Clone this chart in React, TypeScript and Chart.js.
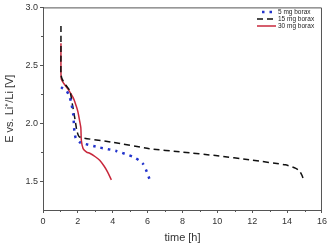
import React, { useEffect, useRef } from "react";
import { Chart, registerables } from "chart.js";

Chart.register(...registerables);

const seriesLabels = ["5 mg borax", "15 mg borax", "30 mg borax"];

const t5 = [1.03, 1.35, 1.54, 1.64, 1.73, 1.77, 1.8, 1.88, 2.1, 3.25, 4.2, 5.16, 5.5, 5.73, 5.9, 6.1];
const v5 = [2.31, 2.28, 2.22, 2.16, 2.08, 2.0, 1.93, 1.87, 1.835, 1.79, 1.76, 1.71, 1.68, 1.65, 1.6, 1.52];

const t15 = [1.03, 1.03, 1.03, 1.1, 1.3, 1.54, 1.7, 1.85, 1.95, 2.1, 4.0, 6.1, 8, 9.9, 12, 13.9, 14.5, 14.7, 14.85, 14.95];
const v15 = [2.84, 2.6, 2.42, 2.38, 2.33, 2.28, 2.15, 2.02, 1.93, 1.88, 1.835, 1.78, 1.75, 1.72, 1.68, 1.64, 1.61, 1.59, 1.55, 1.51];

const t30 = [1.03, 1.03, 1.05, 1.16, 1.45, 1.73, 1.9, 2.0, 2.1, 2.17, 2.2, 2.3, 2.5, 2.68, 3.0, 3.25, 3.5, 3.7, 3.92];
const v30 = [2.69, 2.45, 2.38, 2.35, 2.29, 2.22, 2.15, 2.1, 2.02, 1.96, 1.85, 1.78, 1.75, 1.74, 1.71, 1.68, 1.63, 1.58, 1.51];

const xTicks = [0, 2, 4, 6, 8, 10, 12, 14, 16];
const xMinorTicks = [1, 3, 5, 7, 9, 11, 13, 15];
const yTicks = [1.5, 2.0, 2.5, 3.0];
const yMinorTicks = [1.75, 2.25, 2.75];

const FONT = "'Liberation Sans', Arial, sans-serif";
const AXIS = "#555";

const pts = (ts: number[], vs: number[]) => ts.map((t, i) => ({ x: t, y: vs[i] }));

const framePlugin = {
  id: "frame",
  afterDraw(chart: any) {
    const { ctx, chartArea: a, scales } = chart;
    ctx.save();
    ctx.strokeStyle = AXIS;
    ctx.lineWidth = 1;
    ctx.beginPath();
    ctx.moveTo(a.left, a.top + 0.5);
    ctx.lineTo(a.right - 0.5, a.top + 0.5);
    ctx.lineTo(a.right - 0.5, a.bottom);
    ctx.stroke();
    ctx.beginPath();
    xMinorTicks.forEach((v) => {
      const x = Math.round(scales.x.getPixelForValue(v)) + 0.5;
      ctx.moveTo(x, a.bottom);
      ctx.lineTo(x, a.bottom + 2);
    });
    yMinorTicks.forEach((v) => {
      const y = Math.round(scales.y.getPixelForValue(v)) + 0.5;
      ctx.moveTo(a.left, y);
      ctx.lineTo(a.left - 2, y);
    });
    ctx.stroke();
    const ds = chart.data.datasets;
    const x0 = 257;
    const x1 = 276;
    const rows = [12, 19, 26];
    ctx.font = `6.5px ${FONT}`;
    ctx.textBaseline = "middle";
    ctx.textAlign = "left";
    ds.forEach((d: any, i: number) => {
      ctx.save();
      ctx.strokeStyle = d.borderColor;
      ctx.lineWidth = d.borderWidth;
      ctx.setLineDash(d.borderDash || []);
      ctx.beginPath();
      ctx.moveTo(i === 0 ? 262 : x0, rows[i]);
      ctx.lineTo(x1, rows[i]);
      ctx.stroke();
      ctx.restore();
      ctx.fillStyle = "#222";
      ctx.fillText(d.label, 278, rows[i]);
    });
    ctx.restore();
  },
};

export default function App() {
  const ref = useRef<HTMLCanvasElement>(null);
  useEffect(() => {
    document.body.style.margin = "0";
    const chart = new Chart(ref.current!, {
      type: "scatter",
      data: {
        datasets: [
          {
            label: seriesLabels[0],
            data: pts(t5, v5),
            showLine: true,
            borderColor: "#2233cc",
            borderWidth: 2.5,
            borderDash: [2.5, 5],
            pointRadius: 0,
            tension: 0.2,
          },
          {
            label: seriesLabels[1],
            data: pts(t15, v15),
            showLine: true,
            borderColor: "#111",
            borderWidth: 1.5,
            borderDash: [6, 4],
            pointRadius: 0,
            tension: 0.2,
          },
          {
            label: seriesLabels[2],
            data: pts(t30, v30),
            showLine: true,
            borderColor: "#c8283c",
            borderWidth: 1.5,
            pointRadius: 0,
            tension: 0.3,
          },
        ] as any,
      },
      options: {
        responsive: false,
        animation: false,
        layout: { padding: { top: 5, right: 7, left: 0, bottom: 0 } },
        plugins: { legend: { display: false }, tooltip: { enabled: false } },
        scales: {
          x: {
            type: "linear",
            min: 0,
            max: 16,
            afterBuildTicks: (s: any) => {
              s.ticks = xTicks.map((v) => ({ value: v }));
            },
            afterFit: (s: any) => {
              s.height = 36;
            },
            grid: { drawOnChartArea: false, tickLength: 3, color: AXIS },
            border: { color: AXIS, width: 1 },
            ticks: { color: "#333", font: { family: FONT, size: 9 }, padding: 3, maxRotation: 0 },
            title: { display: true, text: "time [h]", color: "#333", font: { family: FONT, size: 11 }, padding: { top: 1, bottom: 1 } },
          },
          y: {
            type: "linear",
            min: 1.25,
            max: 3.0,
            afterBuildTicks: (s: any) => {
              s.ticks = yTicks.map((v) => ({ value: v }));
            },
            afterFit: (s: any) => {
              s.width = 43;
            },
            grid: { drawOnChartArea: false, tickLength: 3, color: AXIS },
            border: { color: AXIS, width: 1 },
            ticks: {
              color: "#333",
              font: { family: FONT, size: 9 },
              padding: 2,
              callback: (v: any) => Number(v).toFixed(1),
            },
            title: { display: true, text: "E vs. Li⁺/Li [V]", color: "#333", font: { family: FONT, size: 11 }, padding: { top: 3, bottom: 2 } },
          },
        },
      },
      plugins: [framePlugin],
    });
    return () => chart.destroy();
  }, []);
  return (
    <div style={{ position: "absolute", left: 0, top: 0, width: 330, height: 246, background: "#fff" }}>
      <canvas ref={ref} width={330} height={246} />
    </div>
  );
}
